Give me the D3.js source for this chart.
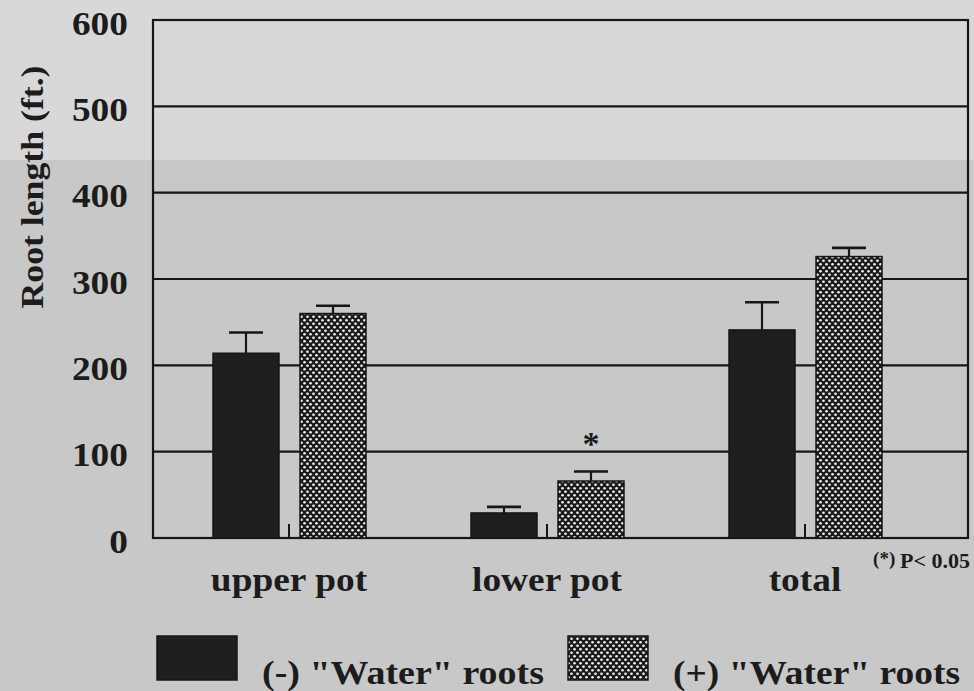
<!DOCTYPE html>
<html>
<head>
<meta charset="utf-8">
<script src="https://cdn.jsdelivr.net/npm/d3@7"></script>
<style>
  body { margin: 0; background: #cbcbcb; }
  svg { display: block; }
  text { font-family: "Liberation Serif", "Times New Roman", serif; font-weight: bold; fill: #1c1c1c; }
</style>
</head>
<body>
<script>
// data
const categories = ["upper pot", "lower pot", "total"];
const series = ['(-) "Water" roots', '(+) "Water" roots'];
const minusMean = [214, 29, 241];
const minusErr = [24, 7, 32];
const plusMean = [260, 66, 326];
const plusErr = [9, 11, 10];
const signif = [false, true, false];
const yTicks = [0, 100, 200, 300, 400, 500, 600];

const w = 974;
const h = 691;
const padL = 153, padR = 968, padT = 20, padB = 538;
const ink = "#161616";

const svg = d3.select("body").append("svg")
  .attr("width", w).attr("height", h);

// scan-like background
svg.append("rect").attr("width", w).attr("height", h).attr("fill", "#c8c8c8");
svg.append("rect").attr("width", w).attr("height", 160).attr("fill", "#d8d8d8");

// widen text like the scanned print
function stretch(sel, k) {
  sel.each(function () {
    const len = this.getComputedTextLength();
    d3.select(this).attr("textLength", len * k).attr("lengthAdjust", "spacingAndGlyphs");
  });
}

const defs = svg.append("defs");
const pat = defs.append("pattern")
  .attr("id", "hatch")
  .attr("patternUnits", "userSpaceOnUse")
  .attr("width", 6).attr("height", 7);
pat.append("rect").attr("width", 6).attr("height", 7).attr("fill", "#1c1c1c");
pat.append("circle").attr("cx", 1.5).attr("cy", 1.75).attr("r", 1.35).attr("fill", "#f0f0f0");
pat.append("circle").attr("cx", 4.5).attr("cy", 5.25).attr("r", 1.35).attr("fill", "#f0f0f0");

const y = d3.scaleLinear().domain([0, 600]).range([padB, padT]);
const x0 = d3.scaleBand().domain(categories).range([160, 934]).padding(0);

// gridlines
svg.append("g")
  .selectAll("line")
  .data(yTicks)
  .enter()
  .append("line")
  .attr("x1", padL).attr("x2", padR)
  .attr("y1", (d) => y(d)).attr("y2", (d) => y(d))
  .attr("stroke", ink).attr("stroke-width", 2.2);

// frame
svg.append("rect")
  .attr("x", padL).attr("y", padT)
  .attr("width", padR - padL).attr("height", padB - padT)
  .attr("fill", "none").attr("stroke", ink).attr("stroke-width", 2.2);

// y axis labels
const yAxis = d3.axisLeft(y).tickValues(yTicks).tickSize(0).tickPadding(25);
const ya = svg.append("g").attr("transform", "translate(" + padL + ",0)").call(yAxis);
ya.select(".domain").remove();
ya.selectAll("text")
  .attr("font-family", '"Liberation Serif", serif')
  .attr("font-size", 34).attr("font-weight", "bold").attr("fill", "#1c1c1c")
  .attr("dy", "0.42em")
  .call(stretch, 1.1);

svg.append("text")
  .attr("transform", "translate(43,187) rotate(-90)")
  .attr("text-anchor", "middle")
  .attr("font-size", 32)
  .attr("textLength", 243)
  .attr("lengthAdjust", "spacingAndGlyphs")
  .text("Root length (ft.)");

const barW = 66;
const rows = categories.map((c, i) => ({ c, i }));

function drawBars(vals, errs, fill, offset) {
  const cx = (d) => x0(d.c) + x0.bandwidth() / 2 + offset;
  // error bars
  svg.append("g").selectAll("line")
    .data(rows).enter().append("line")
    .attr("x1", cx).attr("x2", cx)
    .attr("y1", (d) => y(vals[d.i])).attr("y2", (d) => y(vals[d.i] + errs[d.i]))
    .attr("stroke", ink).attr("stroke-width", 2.2);
  svg.append("g").selectAll("line")
    .data(rows).enter().append("line")
    .attr("x1", (d) => cx(d) - 17).attr("x2", (d) => cx(d) + 17)
    .attr("y1", (d) => y(vals[d.i] + errs[d.i])).attr("y2", (d) => y(vals[d.i] + errs[d.i]))
    .attr("stroke", ink).attr("stroke-width", 2.6);
  svg.append("g").selectAll("rect")
    .data(rows).enter().append("rect")
    .attr("x", (d) => cx(d) - barW / 2)
    .attr("y", (d) => y(vals[d.i]))
    .attr("width", barW)
    .attr("height", (d) => padB - y(vals[d.i]))
    .attr("fill", fill)
    .attr("stroke", ink).attr("stroke-width", 1.5);
}

drawBars(minusMean, minusErr, "#1e1e1e", -43);
drawBars(plusMean, plusErr, "url(#hatch)", 44);

// small center ticks
svg.append("g").selectAll("line")
  .data(rows).enter().append("line")
  .attr("x1", (d) => x0(d.c) + x0.bandwidth() / 2)
  .attr("x2", (d) => x0(d.c) + x0.bandwidth() / 2)
  .attr("y1", padB).attr("y2", padB - 14)
  .attr("stroke", ink).attr("stroke-width", 2);

// significance stars
svg.append("g").selectAll("text")
  .data(rows.filter((d) => signif[d.i])).enter().append("text")
  .attr("x", (d) => x0(d.c) + x0.bandwidth() / 2 + 44)
  .attr("y", (d) => y(plusMean[d.i] + plusErr[d.i]) - 17)
  .attr("text-anchor", "middle")
  .attr("font-size", 34)
  .text("*");

// category labels
svg.append("g").selectAll("text")
  .data(categories).enter().append("text")
  .attr("x", (d) => x0(d) + x0.bandwidth() / 2)
  .attr("y", 591)
  .attr("text-anchor", "middle")
  .attr("font-size", 34)
  .text((d) => d)
  .call(stretch, 1.1);

const note = svg.append("text")
  .attr("x", 970).attr("y", 568)
  .attr("text-anchor", "end");
note.append("tspan").attr("font-size", 19).attr("dy", -3).text("(*) ");
note.append("tspan").attr("font-size", 22).attr("dy", 3).text("P< 0.05");

// legend
const legend = [
  { name: series[0], fill: "#1e1e1e", bx: 157, bw: 80, tx: 262, tw: 282 },
  { name: series[1], fill: "url(#hatch)", bx: 568, bw: 80, tx: 673, tw: 287 }
];
const lg = svg.append("g").selectAll("g").data(legend).enter().append("g");
lg.append("rect")
  .attr("x", (d) => d.bx).attr("y", 636)
  .attr("width", (d) => d.bw).attr("height", 44)
  .attr("fill", (d) => d.fill)
  .attr("stroke", ink).attr("stroke-width", 1.5);
lg.append("text")
  .attr("x", (d) => d.tx).attr("y", 684)
  .attr("font-size", 34)
  .attr("textLength", (d) => d.tw)
  .attr("lengthAdjust", "spacingAndGlyphs")
  .text((d) => d.name);
</script>
</body>
</html>
